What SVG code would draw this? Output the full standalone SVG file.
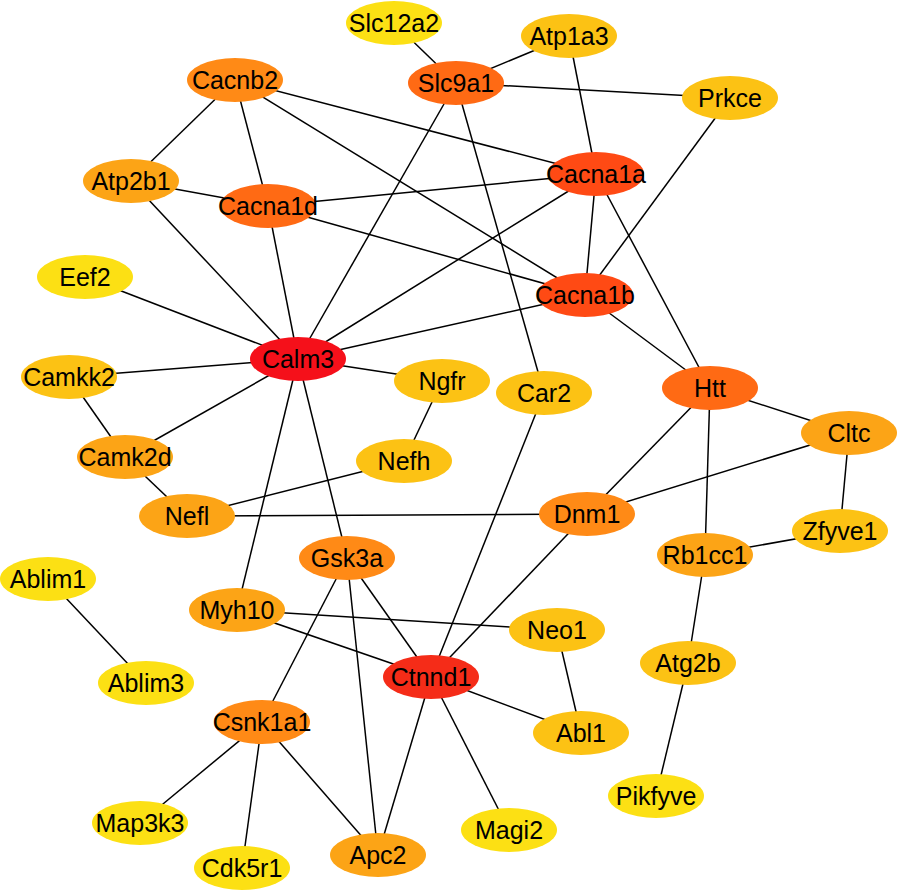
<svg xmlns="http://www.w3.org/2000/svg" width="898" height="891" viewBox="0 0 898 891">
<style>
.e{stroke:#000;stroke-width:1.5;fill:none}
text{font-family:"Liberation Sans",Arial,sans-serif;font-size:25px;text-anchor:middle;fill:#000}
.c1{fill:#F5101A}.c2{fill:#F52C18}.c3{fill:#FF4A14}.c4{fill:#FF6A14}.c5{fill:#FF8A16}.c6{fill:#FCA416}.c7{fill:#FCC214}.c8{fill:#FCE014}
</style>
<rect width="898" height="891" fill="#fff"/>
<g id="edges" class="e">
<line x1="394" y1="23" x2="456" y2="83"/>
<line x1="569" y1="36" x2="456" y2="83"/>
<line x1="569" y1="36" x2="596" y2="174"/>
<line x1="456" y1="83" x2="730" y2="98"/>
<line x1="456" y1="83" x2="298" y2="359"/>
<line x1="456" y1="83" x2="544" y2="393"/>
<line x1="235" y1="80" x2="131" y2="181"/>
<line x1="235" y1="80" x2="268" y2="206"/>
<line x1="235" y1="80" x2="596" y2="174"/>
<line x1="235" y1="80" x2="585" y2="295"/>
<line x1="730" y1="98" x2="585" y2="295"/>
<line x1="131" y1="181" x2="268" y2="206"/>
<line x1="131" y1="181" x2="298" y2="359"/>
<line x1="268" y1="206" x2="596" y2="174"/>
<line x1="268" y1="206" x2="585" y2="295"/>
<line x1="268" y1="206" x2="298" y2="359"/>
<line x1="596" y1="174" x2="298" y2="359"/>
<line x1="596" y1="174" x2="585" y2="295"/>
<line x1="596" y1="174" x2="710" y2="388"/>
<line x1="585" y1="295" x2="298" y2="359"/>
<line x1="585" y1="295" x2="710" y2="388"/>
<line x1="85" y1="277" x2="298" y2="359"/>
<line x1="298" y1="359" x2="69" y2="377"/>
<line x1="298" y1="359" x2="125" y2="457"/>
<line x1="298" y1="359" x2="442" y2="381"/>
<line x1="298" y1="359" x2="237" y2="610"/>
<line x1="298" y1="359" x2="347" y2="558"/>
<line x1="69" y1="377" x2="125" y2="457"/>
<line x1="125" y1="457" x2="187" y2="516"/>
<line x1="442" y1="381" x2="404" y2="461"/>
<line x1="404" y1="461" x2="187" y2="516"/>
<line x1="187" y1="516" x2="587" y2="514"/>
<line x1="544" y1="393" x2="431" y2="677"/>
<line x1="710" y1="388" x2="587" y2="514"/>
<line x1="710" y1="388" x2="849" y2="433"/>
<line x1="710" y1="388" x2="705" y2="555"/>
<line x1="849" y1="433" x2="587" y2="514"/>
<line x1="849" y1="433" x2="840" y2="531"/>
<line x1="840" y1="531" x2="705" y2="555"/>
<line x1="705" y1="555" x2="688" y2="663"/>
<line x1="688" y1="663" x2="656" y2="796"/>
<line x1="587" y1="514" x2="431" y2="677"/>
<line x1="347" y1="558" x2="431" y2="677"/>
<line x1="347" y1="558" x2="262" y2="722"/>
<line x1="347" y1="558" x2="378" y2="855"/>
<line x1="237" y1="610" x2="557" y2="630"/>
<line x1="237" y1="610" x2="431" y2="677"/>
<line x1="48" y1="579" x2="146" y2="683"/>
<line x1="431" y1="677" x2="581" y2="733"/>
<line x1="431" y1="677" x2="509" y2="830"/>
<line x1="431" y1="677" x2="378" y2="855"/>
<line x1="557" y1="630" x2="581" y2="733"/>
<line x1="262" y1="722" x2="140" y2="823"/>
<line x1="262" y1="722" x2="242" y2="868"/>
<line x1="262" y1="722" x2="378" y2="855"/>
</g>
<g id="Slc12a2"><ellipse class="c8" cx="394" cy="23" rx="48" ry="22"/><text x="394" y="32">Slc12a2</text></g>
<g id="Atp1a3"><ellipse class="c7" cx="569" cy="36" rx="48" ry="22"/><text x="569" y="45">Atp1a3</text></g>
<g id="Cacnb2"><ellipse class="c5" cx="235" cy="80" rx="48" ry="22"/><text x="235" y="89">Cacnb2</text></g>
<g id="Slc9a1"><ellipse class="c4" cx="456" cy="83" rx="48" ry="22"/><text x="456" y="92">Slc9a1</text></g>
<g id="Prkce"><ellipse class="c7" cx="730" cy="98" rx="48" ry="22"/><text x="730" y="107">Prkce</text></g>
<g id="Cacna1a"><ellipse class="c3" cx="596" cy="174" rx="48" ry="22"/><text x="596" y="183">Cacna1a</text></g>
<g id="Atp2b1"><ellipse class="c6" cx="131" cy="181" rx="48" ry="22"/><text x="131" y="190">Atp2b1</text></g>
<g id="Cacna1d"><ellipse class="c4" cx="268" cy="206" rx="48" ry="22"/><text x="268" y="215">Cacna1d</text></g>
<g id="Eef2"><ellipse class="c8" cx="85" cy="277" rx="48" ry="22"/><text x="85" y="286">Eef2</text></g>
<g id="Cacna1b"><ellipse class="c3" cx="585" cy="295" rx="48" ry="22"/><text x="585" y="304">Cacna1b</text></g>
<g id="Calm3"><ellipse class="c1" cx="298" cy="359" rx="48" ry="22"/><text x="298" y="368">Calm3</text></g>
<g id="Camkk2"><ellipse class="c7" cx="69" cy="377" rx="48" ry="22"/><text x="69" y="386">Camkk2</text></g>
<g id="Ngfr"><ellipse class="c7" cx="442" cy="381" rx="48" ry="22"/><text x="442" y="390">Ngfr</text></g>
<g id="Car2"><ellipse class="c7" cx="544" cy="393" rx="48" ry="22"/><text x="544" y="402">Car2</text></g>
<g id="Htt"><ellipse class="c4" cx="710" cy="388" rx="48" ry="22"/><text x="710" y="397">Htt</text></g>
<g id="Cltc"><ellipse class="c6" cx="849" cy="433" rx="48" ry="22"/><text x="849" y="442">Cltc</text></g>
<g id="Camk2d"><ellipse class="c6" cx="125" cy="457" rx="48" ry="22"/><text x="125" y="466">Camk2d</text></g>
<g id="Nefh"><ellipse class="c7" cx="404" cy="461" rx="48" ry="22"/><text x="404" y="470">Nefh</text></g>
<g id="Nefl"><ellipse class="c6" cx="187" cy="516" rx="48" ry="22"/><text x="187" y="525">Nefl</text></g>
<g id="Dnm1"><ellipse class="c5" cx="587" cy="514" rx="48" ry="22"/><text x="587" y="523">Dnm1</text></g>
<g id="Zfyve1"><ellipse class="c7" cx="840" cy="531" rx="48" ry="22"/><text x="840" y="540">Zfyve1</text></g>
<g id="Rb1cc1"><ellipse class="c6" cx="705" cy="555" rx="48" ry="22"/><text x="705" y="564">Rb1cc1</text></g>
<g id="Gsk3a"><ellipse class="c5" cx="347" cy="558" rx="48" ry="22"/><text x="347" y="567">Gsk3a</text></g>
<g id="Ablim1"><ellipse class="c8" cx="48" cy="579" rx="48" ry="22"/><text x="48" y="588">Ablim1</text></g>
<g id="Myh10"><ellipse class="c6" cx="237" cy="610" rx="48" ry="22"/><text x="237" y="619">Myh10</text></g>
<g id="Neo1"><ellipse class="c7" cx="557" cy="630" rx="48" ry="22"/><text x="557" y="639">Neo1</text></g>
<g id="Atg2b"><ellipse class="c7" cx="688" cy="663" rx="48" ry="22"/><text x="688" y="672">Atg2b</text></g>
<g id="Ctnnd1"><ellipse class="c2" cx="431" cy="677" rx="48" ry="22"/><text x="431" y="686">Ctnnd1</text></g>
<g id="Ablim3"><ellipse class="c8" cx="146" cy="683" rx="48" ry="22"/><text x="146" y="692">Ablim3</text></g>
<g id="Csnk1a1"><ellipse class="c5" cx="262" cy="722" rx="48" ry="22"/><text x="262" y="731">Csnk1a1</text></g>
<g id="Abl1"><ellipse class="c7" cx="581" cy="733" rx="48" ry="22"/><text x="581" y="742">Abl1</text></g>
<g id="Pikfyve"><ellipse class="c8" cx="656" cy="796" rx="48" ry="22"/><text x="656" y="805">Pikfyve</text></g>
<g id="Map3k3"><ellipse class="c8" cx="140" cy="823" rx="48" ry="22"/><text x="140" y="832">Map3k3</text></g>
<g id="Magi2"><ellipse class="c8" cx="509" cy="830" rx="48" ry="22"/><text x="509" y="839">Magi2</text></g>
<g id="Apc2"><ellipse class="c6" cx="378" cy="855" rx="48" ry="22"/><text x="378" y="864">Apc2</text></g>
<g id="Cdk5r1"><ellipse class="c8" cx="242" cy="868" rx="48" ry="22"/><text x="242" y="877">Cdk5r1</text></g>
</svg>
